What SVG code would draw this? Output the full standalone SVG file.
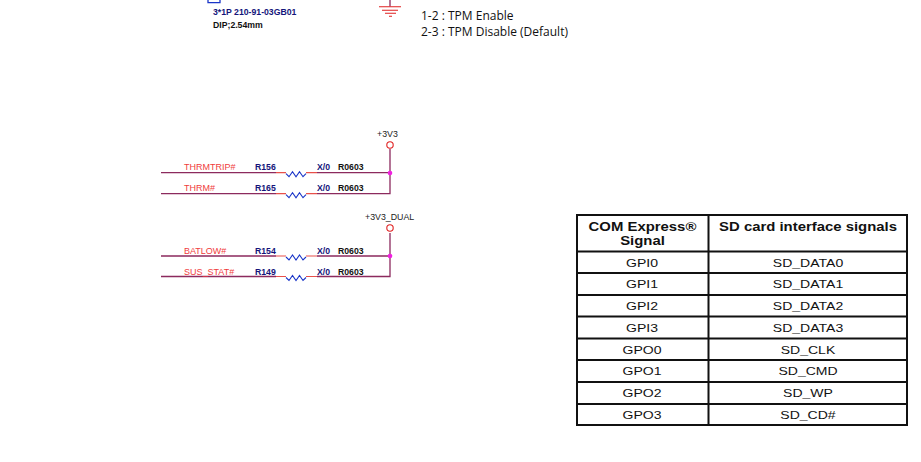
<svg xmlns="http://www.w3.org/2000/svg" width="921" height="462" viewBox="0 0 921 462">
<style>
text{font-family:"Liberation Sans",Arial,sans-serif}
.wire{fill:none;stroke:#8c2a5e;stroke-width:1.3}
.lead{fill:none;stroke:#e8504a;stroke-width:1.2}
.res{fill:none;stroke:#1a35c8;stroke-width:1.1}
.pwr{fill:none;stroke:#e02020;stroke-width:1.1}
.sig{font-size:9px;fill:#f03c3c}
.ref{font-size:8.700px;fill:#14147a;font-weight:bold}
.val{font-size:8.700px;fill:#14147a;font-weight:bold}
.pkg{font-size:8.700px;fill:#111;font-weight:bold}
.net{font-size:8.800px;fill:#222}
.note{font-family:"Open Sans",sans-serif;font-size:12px;fill:#111}
.grid{fill:none;stroke:#111;stroke-width:2}
.h{font-size:13.300px;font-weight:bold;fill:#111;text-anchor:middle}
.c{font-size:11.800px;fill:#111;text-anchor:middle}
.dot{fill:#f020e0}
</style>
<defs>
<g id="r"><path class="lead" d="M276 0H286M306 0H317"/><path class="res" d="M286 0l3 3 3.500-5 3.500 5 3.500-5 3.500 5 3-3" transform="translate(0 1)"/></g>
</defs>
<g id="connectors">
<path class="wire" d="M161 172.700H276M317 172.700H390M161 193.700H276M317 193.700H390V149"/>
<path class="wire" d="M161 256H276M317 256H390M161 276.500H276M317 276.500H390V233"/>
<path class="wire" d="M390 0V6.500"/>
<path class="pwr" d="M379 6.700H401M382 10.300H398M385 13.300H396M389 16.300H392"/>
</g>
<g id="conn-top"><path d="M208 0V2.700H220V0" fill="none" stroke="#1a35c8" stroke-width="1.300"/>
<text class="ref" x="213" y="15">3*1P 210-91-03GB01</text><text class="pkg" x="213" y="28">DIP;2.54mm</text></g>
<g id="note"><text class="note" x="421" y="20">1-2 : TPM Enable</text><text class="note" x="421" y="36">2-3 : TPM Disable (Default)</text></g>
<g id="pwr-3v3"><text class="net" x="377" y="137">+3V3</text><circle cx="390" cy="145" r="3.200" fill="#fff" stroke="#e02020" stroke-width="1.100"/><circle class="dot" cx="390" cy="173" r="2.300"/></g>
<g id="pwr-dual"><text class="net" x="365" y="220">+3V3_DUAL</text><circle cx="390" cy="228" r="3.200" fill="#fff" stroke="#e02020" stroke-width="1.100"/><circle class="dot" cx="390" cy="256" r="2.300"/></g>
<g id="R156"><use href="#r" y="172.700"/><text class="sig" x="184" y="170">THRMTRIP#</text><text class="ref" x="255" y="170">R156</text><text class="val" x="317" y="170">X/0</text><text class="pkg" x="338" y="170">R0603</text></g>
<g id="R165"><use href="#r" y="193.700"/><text class="sig" x="184" y="191">THRM#</text><text class="ref" x="255" y="191">R165</text><text class="val" x="317" y="191">X/0</text><text class="pkg" x="338" y="191">R0603</text></g>
<g id="R154"><use href="#r" y="256"/><text class="sig" x="184" y="253.500">BATLOW#</text><text class="ref" x="255" y="253.500">R154</text><text class="val" x="317" y="253.500">X/0</text><text class="pkg" x="338" y="253.500">R0603</text></g>
<g id="R149"><use href="#r" y="276.500"/><text class="sig" x="184" y="274.500">SUS_STAT#</text><text class="ref" x="255" y="274.500">R149</text><text class="val" x="317" y="274.500">X/0</text><text class="pkg" x="338" y="274.500">R0603</text></g>
<g id="table">
<path class="grid" d="M577 215H907V425H577ZM708.500 215V425M577 251.500H907M577 273H907M577 295H907M577 316.500H907M577 338.500H907M577 360H907M577 382H907M577 404H907"/>
<g transform="translate(642.500 0) scale(1.120 1)"><text class="h" x="0" y="231">COM Express®</text><text class="h" x="0" y="245">Signal</text></g>
<g transform="translate(808 0) scale(1.120 1)"><text class="h" x="0" y="231">SD card interface signals</text></g>
<g transform="translate(642 0) scale(1.190 1)">
<text class="c" x="0" y="267">GPI0</text><text class="c" x="0" y="288">GPI1</text><text class="c" x="0" y="310">GPI2</text><text class="c" x="0" y="332">GPI3</text><text class="c" x="0" y="354">GPO0</text><text class="c" x="0" y="375">GPO1</text><text class="c" x="0" y="397">GPO2</text><text class="c" x="0" y="419">GPO3</text></g>
<g transform="translate(808 0) scale(1.190 1)">
<text class="c" x="0" y="267">SD_DATA0</text><text class="c" x="0" y="288">SD_DATA1</text><text class="c" x="0" y="310">SD_DATA2</text><text class="c" x="0" y="332">SD_DATA3</text><text class="c" x="0" y="354">SD_CLK</text><text class="c" x="0" y="375">SD_CMD</text><text class="c" x="0" y="397">SD_WP</text><text class="c" x="0" y="419">SD_CD#</text></g>
</g>
</svg>
